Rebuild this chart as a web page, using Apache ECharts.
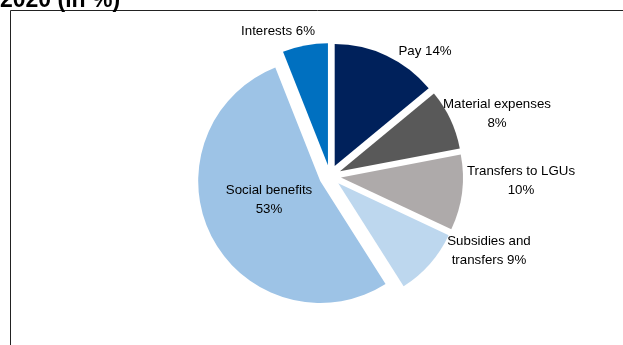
<!DOCTYPE html>
<html>
<head>
<meta charset="utf-8">
<script src="https://cdn.jsdelivr.net/npm/echarts@6/dist/echarts.min.js"></script>
<style>
  html, body { margin: 0; padding: 0; background: #fff; }
  #chart { width: 623px; height: 345px; }
</style>
</head>
<body>
<div id="chart"></div>
<script>
// Budget expenditure structure, 2020 (in %)
const categories = ['Pay', 'Material expenses', 'Transfers to LGUs', 'Subsidies and transfers', 'Social benefits', 'Interests'];
const shares = [14, 8, 10, 9, 53, 6];
const labelTemplates = [
  'Pay {v}%',
  'Material expenses\n{v}%',
  'Transfers to LGUs\n{v}%',
  'Subsidies and\ntransfers {v}%',
  'Social benefits\n{v}%',
  'Interests {v}%'
];
const sliceColors = ['#00215b', '#595959', '#aeaaaa', '#bdd7ee', '#9dc3e6', '#0070c0'];

// Pie geometry and label anchors (offsets from the pie centre)
const CX = 330, CY = 176;
const labelOffsets = [[95, -125], [167, -62], [191, 5], [159, 75], [-61, 24], [-52, -145]];
const FONT = '13.3px "Liberation Sans", Arial, sans-serif';

const chart = echarts.init(document.getElementById('chart'), null, { renderer: 'canvas' });

const data = categories.map((name, i) => ({
  name: name,
  value: shares[i],
  selected: true,
  itemStyle: { color: sliceColors[i] },
  select: { itemStyle: { color: sliceColors[i] } }
}));

// Slice labels, centred on their anchors
const labelGraphics = categories.map((name, i) => ({
  type: 'text',
  silent: true,
  z: 10,
  x: CX + labelOffsets[i][0],
  y: CY + labelOffsets[i][1],
  style: {
    text: labelTemplates[i].replace('{v}', shares[i]),
    font: FONT,
    lineHeight: 19,
    fill: '#000',
    align: 'center',
    verticalAlign: 'middle'
  }
}));

chart.setOption({
  animation: false,
  backgroundColor: '#ffffff',
  graphic: [
    {
      type: 'rect',
      silent: true,
      shape: { x: 10.5, y: 10.5, width: 700, height: 400 },
      style: { fill: 'none', stroke: '#222', lineWidth: 1 }
    },
    {
      type: 'text',
      silent: true,
      x: 0,
      y: 12,
      style: {
        text: '2020 (in %)',
        font: 'bold 23px "Liberation Sans", Arial, sans-serif',
        fill: '#000',
        align: 'left',
        verticalAlign: 'bottom'
      }
    }
  ].concat(labelGraphics),
  series: [{
    type: 'pie',
    silent: true,
    center: [CX, CY],
    radius: 122,
    startAngle: 90,
    clockwise: true,
    selectedMode: 'multiple',
    selectedOffset: 11,
    itemStyle: { borderWidth: 0 },
    label: { show: false },
    labelLine: { show: false },
    emphasis: { disabled: true },
    data: data
  }]
});
</script>
</body>
</html>
